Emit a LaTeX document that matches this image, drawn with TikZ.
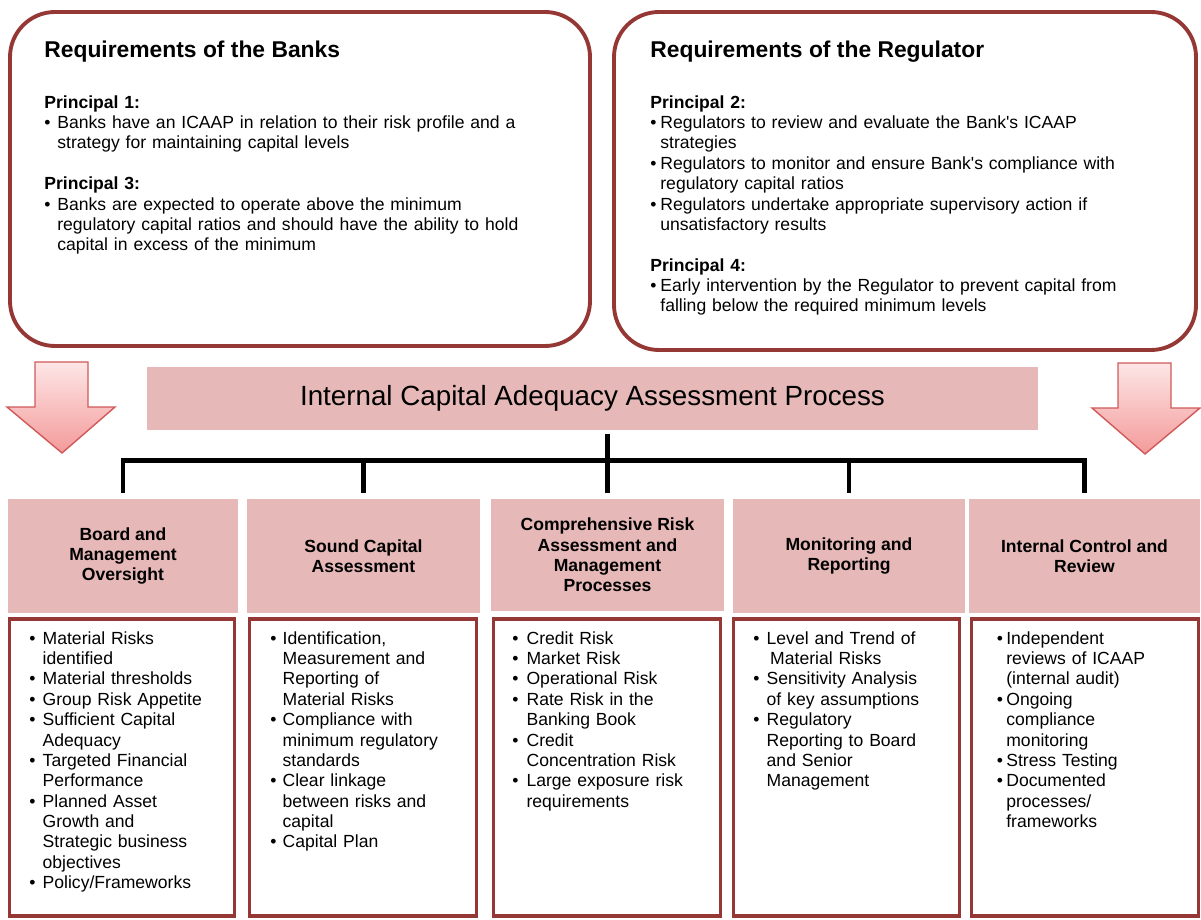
\documentclass[tikz,border=0pt]{standalone}
\usepackage{fontspec}
\setmainfont{Liberation Sans}
\definecolor{pinkfill}{HTML}{E6B9B8}
\definecolor{darkred}{HTML}{953735}
\definecolor{arrline}{HTML}{D05A5A}
\definecolor{arrtop}{HTML}{FDE6E6}
\definecolor{arrbot}{HTML}{F49A9A}
\newlength{\bulw}
\newcommand{\itm}[1]{\hangindent=\bulw\hangafter=1\noindent\makebox[\bulw][l]{\textbullet}{\let\\\newline#1}\par}
\newcommand{\blankline}{\vspace{11.6pt}}
\begin{document}
\begin{tikzpicture}[
  bigbox/.style={draw=darkred,line width=2.2pt,rounded corners=0.9cm},
  title/.style={anchor=base west,inner sep=0pt,font=\fontsize{13}{15.6}\selectfont\bfseries},
  body/.style={anchor=north west,inner sep=0pt,text width=#1,align=left,font=\fontsize{10}{11.6}\selectfont},
  head/.style={fill=pinkfill,inner sep=0pt,align=center,font=\fontsize{10}{11.6}\selectfont\bfseries},
  listbox/.style={draw=darkred,line width=2pt,inner sep=0pt},
  tree/.style={line width=2.5pt,line join=miter},
  downarr/.style={draw=arrline,line width=0.8pt,top color=arrtop,bottom color=arrbot,line join=miter}]
\useasboundingbox (0,0) rectangle (24.02,-18.4);
% requirements
\node[bigbox,minimum width=11.6cm,minimum height=6.68cm] (banks) at (6.00,-3.58) {};
\node[bigbox,minimum width=11.64cm,minimum height=6.76cm] (regs) at (18.10,-3.62) {};
\node[title] (banksT) at (0.88,-1.16) {Requirements of the Banks};
\node[title] (regsT) at (13.00,-1.16) {Requirements of the Regulator};
\node[body=10.6cm] (banksB) at (0.88,-1.90) {\setlength{\bulw}{7.4pt}%
  \noindent\textbf{Principal 1:}\par
  \itm{Banks have an ICAAP in relation to their risk profile and a\\strategy for maintaining capital levels}
  \blankline\noindent\textbf{Principal 3:}\par
  \itm{Banks are expected to operate above the minimum\\regulatory capital ratios and should have the ability to hold\\capital in excess of the minimum}};
\node[body=10.6cm] (regsB) at (13.00,-1.90) {\setlength{\bulw}{5.7pt}%
  \noindent\textbf{Principal 2:}\par
  \itm{Regulators to review and evaluate the Bank\textquotesingle s ICAAP\\strategies}
  \itm{Regulators to monitor and ensure Bank\textquotesingle s compliance with\\regulatory capital ratios}
  \itm{Regulators undertake appropriate supervisory action if\\unsatisfactory results}
  \blankline\noindent\textbf{Principal 4:}\par
  \itm{Early intervention by the Regulator to prevent capital from\\falling below the required minimum levels}};
% arrows
\draw[downarr] (0.70,-7.24) -- (1.76,-7.24) -- (1.76,-8.14) -- (2.30,-8.14) -- (1.24,-9.06) -- (0.14,-8.14) -- (0.70,-8.14) -- cycle;
\draw[downarr] (22.36,-7.26) -- (23.42,-7.26) -- (23.42,-8.16) -- (24.00,-8.16) -- (22.90,-9.08) -- (21.84,-8.16) -- (22.36,-8.16) -- cycle;
% process
\node[fill=pinkfill,minimum width=17.82cm,minimum height=1.26cm,font=\fontsize{15.8}{19}\selectfont] (icaap) at (11.85,-7.97) {Internal Capital Adequacy Assessment Process};
\node[head,minimum width=4.60cm,minimum height=2.28cm] (hb1) at (2.46,-11.12) {Board and\\Management\\Oversight};
\node[head,minimum width=4.66cm,minimum height=2.28cm] (hb2) at (7.27,-11.12) {Sound Capital\\Assessment};
\node[head,minimum width=4.66cm,minimum height=2.24cm] (hb3) at (12.15,-11.10) {Comprehensive Risk\\Assessment and\\Management\\Processes};
\node[head,minimum width=4.64cm,minimum height=2.28cm] (hb4) at (16.98,-11.12) {Monitoring and\\Reporting};
\node[head,minimum width=4.62cm,minimum height=2.28cm] (hb5) at (21.69,-11.12) {Internal Control and\\Review};
% tree
\coordinate (bar) at (0,-9.21);
\draw[tree,shorten <=0.08cm,shorten >=0.12cm] (hb3.north |- icaap.south) -- (hb3.north);
\draw[tree] ([yshift=0.12cm]hb1.north) |- (bar -| hb5.north) -- ([yshift=0.12cm]hb5.north);
\foreach \i in {2,4}
  \draw[tree] ([yshift=0.12cm]hb\i.north) -- (bar -| hb\i.north);
% lists
\node[listbox,minimum width=4.50cm,minimum height=5.94cm] (lb1) at (2.44,-15.35) {};
\node[listbox,minimum width=4.54cm,minimum height=5.94cm] (lb2) at (7.26,-15.35) {};
\node[listbox,minimum width=4.54cm,minimum height=5.94cm] (lb3) at (12.14,-15.35) {};
\node[listbox,minimum width=4.52cm,minimum height=5.94cm] (lb4) at (16.93,-15.35) {};
\node[listbox,minimum width=4.54cm,minimum height=5.94cm] (lb5) at (21.70,-15.35) {};
\node[body=4.1cm] (lt1) at (0.58,-12.62) {\setlength{\bulw}{7.6pt}%
  \itm{Material Risks\\identified}
  \itm{Material thresholds}
  \itm{Group Risk Appetite}
  \itm{Sufficient Capital\\Adequacy}
  \itm{Targeted Financial\\Performance}
  \itm{Planned Asset\\Growth and\\Strategic business\\objectives}
  \itm{Policy/Frameworks}};
\node[body=4.1cm] (lt2) at (5.40,-12.62) {\setlength{\bulw}{7.0pt}%
  \itm{Identification,\\Measurement and\\Reporting of\\Material Risks}
  \itm{Compliance with\\minimum regulatory\\standards}
  \itm{Clear linkage\\between risks and\\capital}
  \itm{Capital Plan}};
\node[body=4.1cm] (lt3) at (10.24,-12.62) {\setlength{\bulw}{8.1pt}%
  \itm{Credit Risk}
  \itm{Market Risk}
  \itm{Operational Risk}
  \itm{Rate Risk in the\\Banking Book}
  \itm{Credit\\Concentration Risk}
  \itm{Large exposure risk\\requirements}};
\node[body=4.1cm] (lt4) at (15.06,-12.62) {\setlength{\bulw}{7.6pt}%
  \itm{Level and Trend of\\\hspace*{2pt}Material Risks}
  \itm{Sensitivity Analysis\\of key assumptions}
  \itm{Regulatory\\Reporting to Board\\and Senior\\Management}};
\node[body=4.1cm] (lt5) at (19.93,-12.62) {\setlength{\bulw}{5.4pt}%
  \itm{Independent\\reviews of ICAAP\\(internal audit)}
  \itm{Ongoing\\compliance\\monitoring}
  \itm{Stress Testing}
  \itm{Documented\\processes/\\frameworks}};
\end{tikzpicture}
\end{document}
